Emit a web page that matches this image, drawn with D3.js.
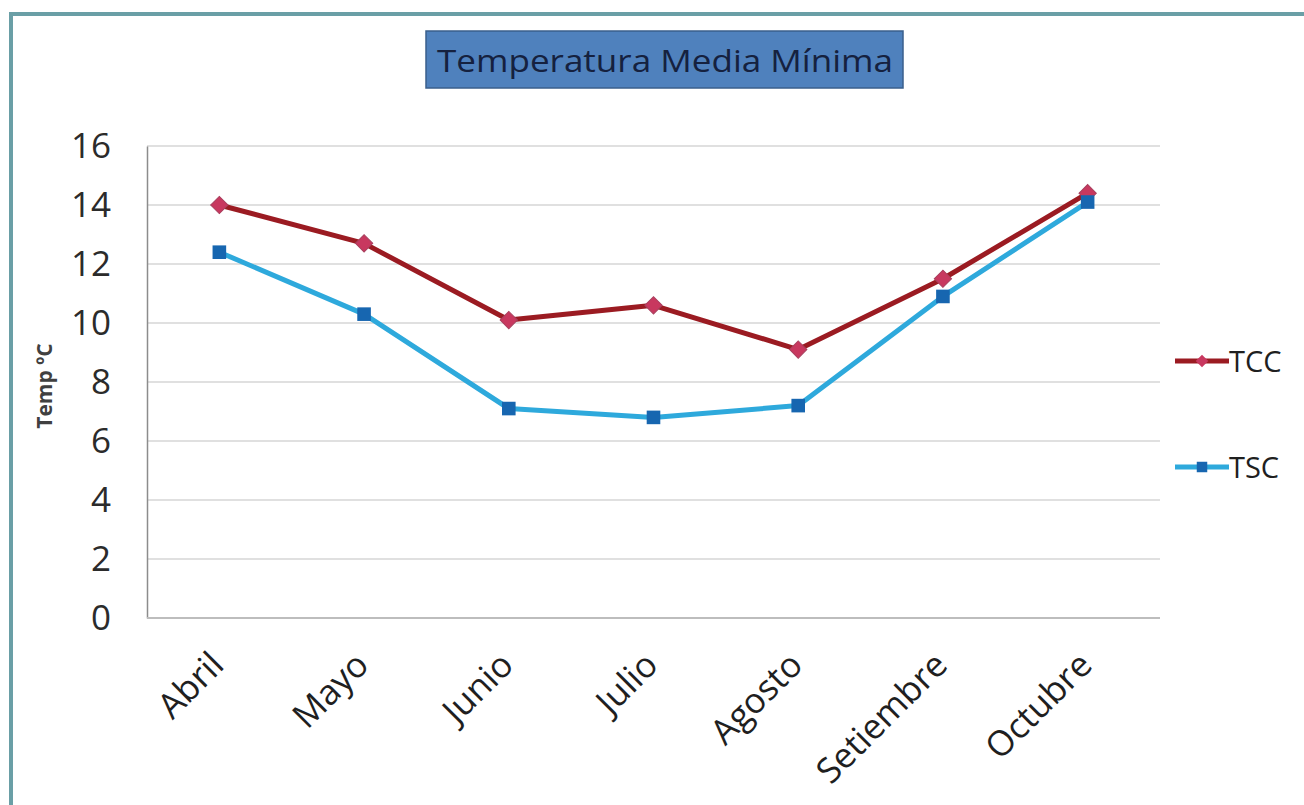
<!DOCTYPE html>
<html>
<head>
<meta charset="utf-8">
<script src="https://cdn.jsdelivr.net/npm/d3@7"></script>
<style>
  html, body { margin: 0; padding: 0; background: #fff; }
  svg { display: block; }
</style>
</head>
<body>
<svg id="chart" width="1304" height="805"></svg>
<script>
// Monthly mean minimum temperature (ºC)
const months = ["Abril", "Mayo", "Junio", "Julio", "Agosto", "Setiembre", "Octubre"];
const tcc = [14.0, 12.7, 10.1, 10.6, 9.1, 11.5, 14.4];
const tsc = [12.4, 10.3, 7.1, 6.8, 7.2, 10.9, 14.1];
const yTicks = [0, 2, 4, 6, 8, 10, 12, 14, 16];
const seriesNames = ["TCC", "TSC"];

const svg = d3.select("#chart");
const font = "'Open Sans', 'Noto Sans', sans-serif";

// Outer frame
svg.append("rect")
  .attr("x", 11).attr("y", 14)
  .attr("width", 1304).attr("height", 820)
  .attr("fill", "none")
  .attr("stroke", "#6a9fa6")
  .attr("stroke-width", 4);

// Title box
const titleG = svg.append("g");
titleG.append("rect")
  .attr("x", 426).attr("y", 31)
  .attr("width", 477).attr("height", 57)
  .attr("fill", "#4f81bd")
  .attr("stroke", "#3a5f8c")
  .attr("stroke-width", 1.5);
titleG.append("text")
  .attr("x", 665).attr("y", 72)
  .attr("text-anchor", "middle")
  .attr("font-family", font)
  .attr("font-size", 31)
  .attr("textLength", 456)
  .attr("lengthAdjust", "spacingAndGlyphs")
  .attr("fill", "#15213f")
  .text("Temperatura Media Mínima");

const plotLeft = 147, plotRight = 1160, plotTop = 146, plotBottom = 618;

const x = d3.scalePoint()
  .domain(months)
  .range([plotLeft, plotRight])
  .padding(0.5);

const y = d3.scaleLinear()
  .domain([0, 16])
  .range([plotBottom, plotTop]);

// Horizontal gridlines
svg.append("g")
  .selectAll("line")
  .data(yTicks.filter(d => d > 0))
  .join("line")
  .attr("x1", plotLeft).attr("x2", plotRight)
  .attr("y1", d => y(d)).attr("y2", d => y(d))
  .attr("stroke", "#d6d6d6")
  .attr("stroke-width", 1.5);

// Y axis
const yAxis = svg.append("g")
  .attr("transform", `translate(${plotLeft},0)`)
  .call(d3.axisLeft(y).tickValues(yTicks).tickSize(0).tickPadding(36));
yAxis.select(".domain").attr("stroke", "#8c8c8c").attr("stroke-width", 1.5);
yAxis.selectAll("text")
  .attr("font-family", font)
  .attr("font-size", 35)
  .attr("fill", "#2b2b2b");

// X axis
const xAxis = svg.append("g")
  .attr("transform", `translate(0,${plotBottom})`)
  .call(d3.axisBottom(x).tickSize(0).tickPadding(0));
xAxis.select(".domain")
  .attr("d", `M${plotLeft},0H${plotRight}`)
  .attr("stroke", "#bdbdbd")
  .attr("stroke-width", 2);
xAxis.selectAll("text")
  .attr("font-family", font)
  .attr("font-size", 35)
  .attr("fill", "#1f1f1f")
  .attr("text-anchor", "end")
  .attr("dy", 0)
  .attr("transform", "translate(6,49) rotate(-45)");

// Y axis title
svg.append("text")
  .attr("transform", "translate(52,386) rotate(-90)")
  .attr("text-anchor", "middle")
  .attr("font-family", font)
  .attr("font-size", 21)
  .attr("font-weight", "bold")
  .attr("fill", "#404040")
  .text("Temp ºC");

const line = d3.line()
  .x((d, i) => x(months[i]))
  .y(d => y(d));

// Diamond = square turned by 45°
const diamond = d3.symbol().type(d3.symbolSquare).size(150);
const square = d3.symbol().type(d3.symbolSquare).size(185);

// TCC series
svg.append("path")
  .datum(tcc)
  .attr("d", line)
  .attr("fill", "none")
  .attr("stroke", "#9b1b22")
  .attr("stroke-width", 5)
  .attr("stroke-linejoin", "round");
svg.append("g")
  .selectAll("path")
  .data(tcc)
  .join("path")
  .attr("d", diamond)
  .attr("transform", (d, i) => `translate(${x(months[i])},${y(d)}) rotate(45)`)
  .attr("fill", "#c8385f")
  .attr("stroke", "#a8405e")
  .attr("stroke-width", 1);

// TSC series
svg.append("path")
  .datum(tsc)
  .attr("d", line)
  .attr("fill", "none")
  .attr("stroke", "#2ea9dc")
  .attr("stroke-width", 5)
  .attr("stroke-linejoin", "round");
svg.append("g")
  .selectAll("path")
  .data(tsc)
  .join("path")
  .attr("d", square)
  .attr("transform", (d, i) => `translate(${x(months[i])},${y(d)})`)
  .attr("fill", "#1766b0");

// Legend
const legendDiamond = d3.symbol().type(d3.symbolSquare).size(80);
const legendSquare = d3.symbol().type(d3.symbolSquare).size(110);
const legend = [
  { name: seriesNames[0], color: "#9b1b22", marker: legendDiamond, rot: 45, mfill: "#c8385f", y: 361 },
  { name: seriesNames[1], color: "#2ea9dc", marker: legendSquare, rot: 0, mfill: "#1766b0", y: 467 }
];
const lg = svg.append("g");
legend.forEach(l => {
  lg.append("line")
    .attr("x1", 1175).attr("x2", 1229)
    .attr("y1", l.y).attr("y2", l.y)
    .attr("stroke", l.color)
    .attr("stroke-width", 5);
  lg.append("path")
    .attr("d", l.marker)
    .attr("transform", `translate(1202,${l.y}) rotate(${l.rot})`)
    .attr("fill", l.mfill);
  lg.append("text")
    .attr("x", 1229).attr("y", l.y + 11)
    .attr("font-family", font)
    .attr("font-size", 29)
    .attr("fill", "#1f1f1f")
    .text(l.name);
});
</script>
</body>
</html>
